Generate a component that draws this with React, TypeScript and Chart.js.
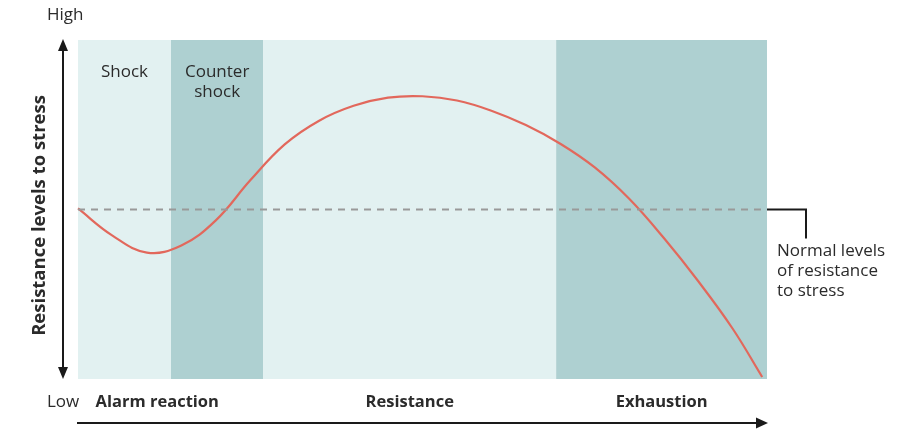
import { useEffect, useRef } from "react";
import { Chart, registerables, Plugin } from "chart.js";

Chart.register(...registerables);

// time axis runs 0..100, resistance 0..100 (50 = normal level)
const curveX = [0, 5, 10, 15, 20, 25, 30, 35, 40, 45, 50, 55, 60, 65, 70, 75, 80, 85, 90, 95, 99.3];
const curveY = [50.3, 42.3, 37.3, 39.4, 46.8, 58.6, 69.2, 76.2, 80.6, 83.0, 83.4, 82.15, 79.15, 74.9, 69.4, 62.4, 53.15, 41.65, 28.9, 14.9, 0.6];
const normalLevel = 50;

const bandEdges = [0, 13.5, 26.9, 69.4, 100];
const bandLabels = [["Shock"], ["Counter", "shock"], [], []];
const bandColors = ["#e2f1f1", "#aed0d1", "#e2f1f1", "#aed0d1"];

const stageLabels = ["Alarm reaction", "Resistance", "Exhaustion"];
const stageCenters = [11.5, 48.15, 84.7];

const FONT = "'Open Sans', sans-serif";
const TEXT = "#2b2b2b";

const bandsPlugin: Plugin = {
  id: "bands",
  beforeDatasetsDraw(chart) {
    const { ctx, chartArea, scales } = chart;
    const x = scales.x;
    ctx.save();
    for (let i = 0; i < bandColors.length; i++) {
      const x0 = x.getPixelForValue(bandEdges[i]);
      const x1 = x.getPixelForValue(bandEdges[i + 1]);
      ctx.fillStyle = bandColors[i];
      ctx.fillRect(x0, chartArea.top, x1 - x0, chartArea.bottom - chartArea.top);
    }
    ctx.fillStyle = TEXT;
    ctx.font = `17px ${FONT}`;
    ctx.textAlign = "center";
    ctx.textBaseline = "middle";
    bandLabels.forEach((lines, i) => {
      const cx = x.getPixelForValue((bandEdges[i] + bandEdges[i + 1]) / 2);
      lines.forEach((t, j) => ctx.fillText(t, cx, chartArea.top + 32 + j * 20));
    });
    ctx.restore();
  },
};

const annotationsPlugin: Plugin = {
  id: "annotations",
  afterDraw(chart) {
    const { ctx, chartArea, scales } = chart;
    const { left, right, top, bottom } = chartArea;
    const x = scales.x;
    const y = scales.y;
    ctx.save();
    ctx.strokeStyle = "#1a1a1a";
    ctx.fillStyle = "#1a1a1a";
    ctx.lineWidth = 2;

    // vertical double arrow
    const ax = left - 15;
    ctx.beginPath();
    ctx.moveTo(ax, top + 8);
    ctx.lineTo(ax, bottom - 8);
    ctx.stroke();
    ctx.beginPath();
    ctx.moveTo(ax, top - 1);
    ctx.lineTo(ax - 5, top + 11);
    ctx.lineTo(ax + 5, top + 11);
    ctx.closePath();
    ctx.fill();
    ctx.beginPath();
    ctx.moveTo(ax, bottom);
    ctx.lineTo(ax - 5, bottom - 12);
    ctx.lineTo(ax + 5, bottom - 12);
    ctx.closePath();
    ctx.fill();

    // horizontal arrow
    const ay = bottom + 44;
    ctx.beginPath();
    ctx.moveTo(left - 1, ay);
    ctx.lineTo(right - 8, ay);
    ctx.stroke();
    ctx.beginPath();
    ctx.moveTo(right + 1, ay);
    ctx.lineTo(right - 11, ay - 5.5);
    ctx.lineTo(right - 11, ay + 5.5);
    ctx.closePath();
    ctx.fill();

    // bracket for normal level
    const ny = y.getPixelForValue(normalLevel);
    ctx.beginPath();
    ctx.moveTo(right, ny);
    ctx.lineTo(right + 39, ny);
    ctx.lineTo(right + 39, ny + 29);
    ctx.stroke();

    ctx.fillStyle = TEXT;
    ctx.font = `17px ${FONT}`;
    ctx.textBaseline = "middle";
    ctx.textAlign = "left";
    ["Normal levels", "of resistance", "to stress"].forEach((t, i) =>
      ctx.fillText(t, right + 10, ny + 42 + i * 20)
    );
    ctx.fillText("High", left - 31, top - 25);
    ctx.fillText("Low", left - 31, bottom + 23);

    ctx.font = `bold 16.5px ${FONT}`;
    ctx.textAlign = "center";
    stageLabels.forEach((t, i) => ctx.fillText(t, x.getPixelForValue(stageCenters[i]), bottom + 23));

    ctx.save();
    ctx.translate(left - 38, (top + bottom) / 2 + 6);
    ctx.rotate(-Math.PI / 2);
    ctx.font = `bold 18.5px ${FONT}`;
    ctx.fillText("Resistance levels to stress", 0, 0);
    ctx.restore();

    ctx.restore();
  },
};

export default function App() {
  const canvasRef = useRef<HTMLCanvasElement>(null);
  const chartRef = useRef<Chart | null>(null);

  useEffect(() => {
    document.body.style.margin = "0";
    if (!canvasRef.current) return;
    if (chartRef.current) chartRef.current.destroy();

    chartRef.current = new Chart(canvasRef.current, {
      type: "line",
      data: {
        datasets: [
          {
            label: "Normal level",
            data: [
              { x: bandEdges[0], y: normalLevel },
              { x: bandEdges[bandEdges.length - 1], y: normalLevel },
            ],
            borderColor: "#999999",
            borderWidth: 2,
            borderDash: [7, 6],
            pointRadius: 0,
          },
          {
            label: "Resistance",
            data: curveX.map((v, i) => ({ x: v, y: curveY[i] })),
            borderColor: "#e2685c",
            borderWidth: 2.2,
            pointRadius: 0,
            tension: 0.4,
          },
        ],
      },
      options: {
        responsive: false,
        animation: false,
        clip: false,
        layout: { padding: { left: 78, right: 137, top: 40, bottom: 59 } },
        scales: {
          x: { type: "linear", min: 0, max: 100, display: false },
          y: { min: 0, max: 100, display: false },
        },
        plugins: {
          legend: { display: false },
          tooltip: { enabled: false },
        },
      },
      plugins: [bandsPlugin, annotationsPlugin],
    });

    return () => {
      if (chartRef.current) {
        chartRef.current.destroy();
        chartRef.current = null;
      }
    };
  }, []);

  return <canvas ref={canvasRef} width={904} height={438}></canvas>;
}
